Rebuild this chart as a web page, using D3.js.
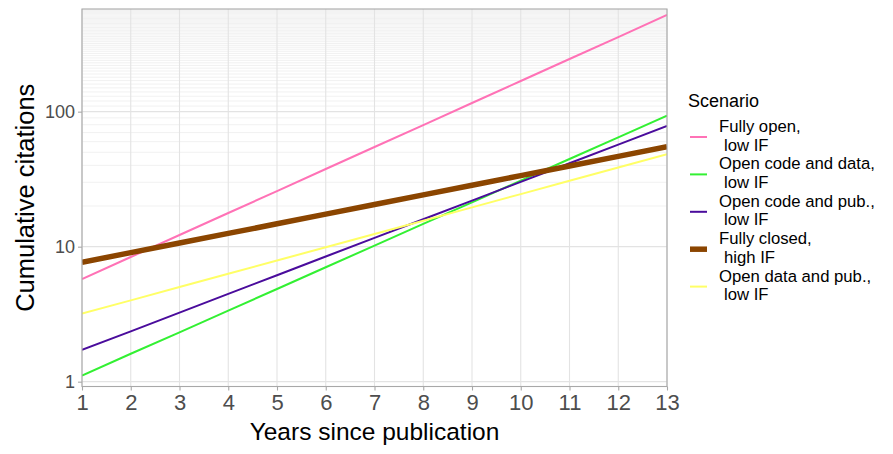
<!DOCTYPE html>
<html>
<head>
<meta charset="utf-8">
<script src="https://cdn.jsdelivr.net/npm/d3@7"></script>
<style>
  body { margin: 0; background: #fff; }
  text { font-family: "Liberation Sans", Arial, sans-serif; }
</style>
</head>
<body>
<div class="vis"></div>
<script>
// values (straight lines on a log axis)
const years = [1, 2, 3, 4, 5, 6, 7, 8, 9, 10, 11, 12, 13];
const fullyOpen = [5.76, 8.38, 12.2, 17.75, 25.8, 37.6, 54.7, 79.6, 115.9, 168.7, 245.5, 357, 520];
const openCodeData = [1.11, 1.61, 2.32, 3.36, 4.86, 7.04, 10.18, 14.73, 21.31, 30.83, 44.6, 64.5, 93.4];
const openCodePub = [1.72, 2.36, 3.25, 4.47, 6.14, 8.45, 11.61, 15.97, 21.95, 30.18, 41.49, 57.04, 78.4];
const fullyClosed = [7.66, 9.03, 10.64, 12.54, 14.77, 17.41, 20.52, 24.18, 28.5, 33.58, 39.58, 46.64, 54.97];
const openDataPub = [3.19, 4.0, 5.02, 6.3, 7.9, 9.9, 12.42, 15.58, 19.54, 24.51, 30.75, 38.57, 48.38];

const scenarioNames = [
  ["Fully open,", "low IF"],
  ["Open code and data,", "low IF"],
  ["Open code and pub.,", "low IF"],
  ["Fully closed,", "high IF"],
  ["Open data and pub.,", "low IF"]
];
const seriesValues = [fullyOpen, openCodeData, openCodePub, fullyClosed, openDataPub];
const colors = ["#ff72b6", "#33f033", "#4a0c9c", "#8b4500", "#ffff66"];
const widths = [2, 2, 2, 5.5, 2];

const yTicks = [1, 10, 100];
const yMinor = d3.range(20, 100, 10).concat(d3.range(110, 580, 10));

const W = 893, H = 454;
const margin = { top: 9, right: 226, bottom: 67.5, left: 82 };

const svg = d3.select(".vis").append("svg")
  .attr("width", W).attr("height", H);

const x = d3.scaleLinear().domain([1, 13]).range([margin.left, W - margin.right]);
const y = d3.scaleLog().domain([0.921, 576]).range([H - margin.bottom, margin.top]);

const grid = svg.append("g");
grid.selectAll("line.minor").data(yMinor).join("line")
  .attr("class", "minor")
  .attr("x1", x(1)).attr("x2", x(13))
  .attr("y1", d => y(d)).attr("y2", d => y(d))
  .attr("stroke", "#ebebeb").attr("stroke-width", 0.7);
grid.selectAll("line.majory").data(yTicks).join("line")
  .attr("class", "majory")
  .attr("x1", x(1)).attr("x2", x(13))
  .attr("y1", d => y(d)).attr("y2", d => y(d))
  .attr("stroke", "#e3e3e3").attr("stroke-width", 1.1);
grid.selectAll("line.majorx").data(years).join("line")
  .attr("class", "majorx")
  .attr("x1", d => x(d)).attr("x2", d => x(d))
  .attr("y1", y.range()[0]).attr("y2", y.range()[1])
  .attr("stroke", "#e3e3e3").attr("stroke-width", 1.1);

const data = seriesValues.map((vals, i) => ({
  i, values: vals.map((v, j) => ({ year: years[j], v }))
}));

const line = d3.line().x(d => x(d.year)).y(d => y(d.v));

svg.append("clipPath").attr("id", "panel").append("rect")
  .attr("x", x(1)).attr("y", margin.top)
  .attr("width", x(13) - x(1)).attr("height", y.range()[0] - margin.top);

svg.append("g").attr("clip-path", "url(#panel)")
  .selectAll("path").data(data).join("path")
  .attr("d", d => line(d.values))
  .attr("fill", "none")
  .attr("stroke", d => colors[d.i])
  .attr("stroke-width", d => widths[d.i]);

// panel border
svg.append("rect")
  .attr("x", x(1)).attr("y", margin.top)
  .attr("width", x(13) - x(1)).attr("height", y.range()[0] - margin.top)
  .attr("fill", "none").attr("stroke", "#a8a8a8").attr("stroke-width", 1.1);

// axes
const xAxis = svg.append("g")
  .attr("transform", `translate(0,${y.range()[0]})`)
  .call(d3.axisBottom(x).tickValues(years).tickFormat(d3.format("d")).tickSize(4).tickPadding(4).tickSizeOuter(0));
xAxis.select(".domain").remove();
xAxis.selectAll("line").attr("stroke", "#a8a8a8").attr("stroke-width", 1.1);
xAxis.selectAll("text").attr("font-size", 22).attr("fill", "#4d4d4d");

const yAxis = svg.append("g")
  .attr("transform", `translate(${x(1)},0)`)
  .call(d3.axisLeft(y).tickValues(yTicks).tickFormat(d3.format("d")).tickSize(4).tickPadding(3).tickSizeOuter(0));
yAxis.select(".domain").remove();
yAxis.selectAll("line").attr("stroke", "#a8a8a8").attr("stroke-width", 1.1);
yAxis.selectAll("text").attr("font-size", 18).attr("fill", "#4d4d4d");

svg.append("text")
  .attr("x", (x(1) + x(13)) / 2).attr("y", 440)
  .attr("text-anchor", "middle").attr("font-size", 24.5)
  .text("Years since publication");

svg.append("text")
  .attr("transform", `translate(34,${(y.range()[0] + margin.top) / 2}) rotate(-90)`)
  .attr("text-anchor", "middle").attr("font-size", 25.5)
  .text("Cumulative citations");

// legend
const legend = svg.append("g");
legend.append("text").attr("x", 688).attr("y", 107)
  .attr("font-size", 18).text("Scenario");

const item = legend.selectAll("g.item").data(scenarioNames).join("g")
  .attr("class", "item")
  .attr("transform", (d, i) => `translate(0,${132 + i * 37.4})`);
item.append("line")
  .attr("x1", 690).attr("x2", 707)
  .attr("y1", 5).attr("y2", 5)
  .attr("stroke", (d, i) => colors[i])
  .attr("stroke-width", (d, i) => widths[i]);
item.append("text").attr("x", 719).attr("y", 0)
  .attr("font-size", 16.7).text(d => d[0]);
item.append("text").attr("x", 724).attr("y", 18.7)
  .attr("font-size", 16.7).text(d => d[1]);
</script>
</body>
</html>
